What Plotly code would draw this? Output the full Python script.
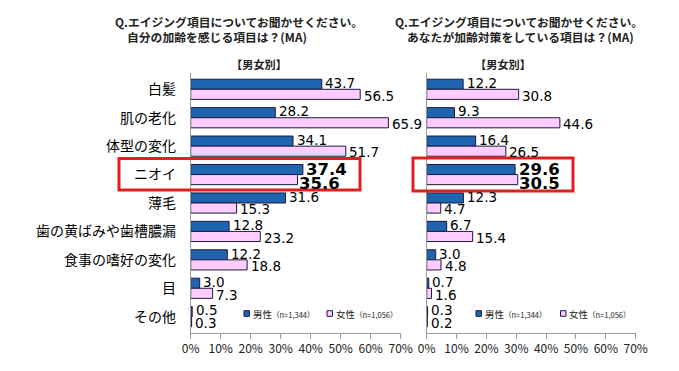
import plotly.graph_objects as go

categories = ["白髪", "肌の老化", "体型の変化", "ニオイ", "薄毛",
              "歯の黄ばみや歯槽膿漏", "食事の嗜好の変化", "目", "その他"]
feel_male = [43.7, 28.2, 34.1, 37.4, 31.6, 12.8, 12.2, 3.0, 0.5]
feel_female = [56.5, 65.9, 51.7, 35.6, 15.3, 23.2, 18.8, 7.3, 0.3]
care_male = [12.2, 9.3, 16.4, 29.6, 12.3, 6.7, 3.0, 0.7, 0.3]
care_female = [30.8, 44.6, 26.5, 30.5, 4.7, 15.4, 4.8, 1.6, 0.2]
x_ticks = [0, 10, 20, 30, 40, 50, 60, 70]
x_tick_labels = ["0%", "10%", "20%", "30%", "40%", "50%", "60%", "70%"]
highlight = "ニオイ"
male_label = "男性"
female_label = "女性"
male_n = "（n=1,344）"
female_n = "（n=1,056）"

MALE = "#1F64AE"
FEMALE = "#FFCCFF"
EDGE = "#1a1a40"
JP = "Noto Sans CJK JP"
NUM = "DejaVu Sans"
W, H = 679, 371

fig = go.Figure()

panels = [
    (feel_male, feel_female, "x", "y"),
    (care_male, care_female, "x2", "y2"),
]
for vals_m, vals_f, xa, ya in panels:
    fig.add_trace(go.Bar(
        y=categories, x=vals_m, orientation="h", name=male_label,
        marker=dict(color=MALE, line=dict(color=EDGE, width=1)),
        xaxis=xa, yaxis=ya, showlegend=False, hoverinfo="x+y"))
    fig.add_trace(go.Bar(
        y=categories, x=vals_f, orientation="h", name=female_label,
        marker=dict(color=FEMALE, line=dict(color=EDGE, width=1)),
        xaxis=xa, yaxis=ya, showlegend=False, hoverinfo="x+y"))
    # value labels, anchored to the data through the axes
    for vals, sign in ((vals_m, 1), (vals_f, -1)):
        for c, v in zip(categories, vals):
            hl = c == highlight
            if hl:
                shift = 5.5 if sign > 0 else -8.5
                xs = 1.5 if sign > 0 else -1.0
                txt = f"<b>{v:.1f}</b>"
                fnt = dict(family=NUM, size=16.5, color="#000")
            else:
                shift = 6.3 if sign > 0 else -6.3
                xs = 1.5
                txt = f"{v:.1f}"
                fnt = dict(family=NUM, size=13.5, color="#000")
            fig.add_annotation(x=v, y=c, xref=xa, yref=ya, text=txt,
                               showarrow=False, xanchor="left", yanchor="middle",
                               xshift=xs, yshift=shift, font=fnt)

xcommon = dict(range=[0, 70], tickvals=x_ticks, ticktext=x_tick_labels,
               showgrid=False, zeroline=False, showline=True, linecolor="#9a9a9a",
               ticks="outside", ticklen=5, tickcolor="#9a9a9a",
               tickfont=dict(family=JP, size=12, color="#222"), fixedrange=True)
ycommon = dict(autorange="reversed", showgrid=False, zeroline=False, showline=True,
               linecolor="#9a9a9a", ticks="", fixedrange=True)

fig.update_layout(
    width=W, height=H, autosize=False,
    margin=dict(l=0, r=0, t=0, b=0, autoexpand=False),
    paper_bgcolor="white", plot_bgcolor="white",
    barmode="group", bargap=0.29, bargroupgap=0,
    font=dict(family=JP, color="#000"),
    showlegend=False,
    xaxis=dict(domain=[190.7 / W, 400.7 / W], anchor="y", **xcommon),
    xaxis2=dict(domain=[426.7 / W, 635.7 / W], anchor="y2", **xcommon),
    yaxis=dict(domain=[1 - 333 / H, 1 - 73 / H], anchor="x", ticklabelstandoff=11,
               tickfont=dict(family=JP, size=14, color="#000"), **ycommon),
    yaxis2=dict(domain=[1 - 333 / H, 1 - 73 / H], anchor="x2", showticklabels=False,
                **ycommon),
)

# titles
title_font = dict(family=JP, size=11.8, color="#222")
anns = [
    (113, 21.5, "<b>Q.エイジング項目についてお聞かせください。</b>"),
    (125, 36.5, "<b>自分の加齢を感じる項目は？(MA)</b>"),
    (393, 21.5, "<b>Q.エイジング項目についてお聞かせください。</b>"),
    (405, 36.5, "<b>あなたが加齢対策をしている項目は？(MA)</b>"),
]
for px, py, t in anns:
    fig.add_annotation(x=px / W, y=1 - py / H, xref="paper", yref="paper",
                       xanchor="left", yanchor="middle", text=t, showarrow=False,
                       font=title_font)
for cx in (259, 503):
    fig.add_annotation(x=cx / W, y=1 - 64.5 / H, xref="paper", yref="paper",
                       xanchor="center", yanchor="middle", text="<b>【男女別】</b>",
                       showarrow=False, font=dict(family=JP, size=11.2, color="#222"))

# legends (icon + text) for each panel
legend_entries = [
    (244, male_label, male_n, MALE),
    (327, female_label, female_n, FEMALE),
    (476, male_label, male_n, MALE),
    (560.5, female_label, female_n, FEMALE),
]
ly = 313.5
for lx, lab, n, col in legend_entries:
    fig.add_shape(type="rect", xref="paper", yref="paper",
                  x0=lx / W, x1=(lx + 5.5) / W, y0=1 - (ly + 2.8) / H, y1=1 - (ly - 2.8) / H,
                  fillcolor=col, line=dict(color=EDGE, width=1))
    fig.add_annotation(x=(lx + 6.5) / W, y=1 - ly / H, xref="paper", yref="paper",
                       xanchor="left", yanchor="middle", showarrow=False,
                       text=f"{lab}<span style='font-size:7.5px'>{n}</span>",
                       font=dict(family=JP, size=9.5, color="#222"))

# highlight boxes
for x0, x1, y0, y1 in [(119, 360, 158.5, 190), (413, 573, 158, 191)]:
    fig.add_shape(type="rect", xref="paper", yref="paper",
                  x0=x0 / W, x1=x1 / W, y0=1 - y1 / H, y1=1 - y0 / H,
                  line=dict(color="#E0201E", width=3), fillcolor="rgba(0,0,0,0)")

fig.write_html(
    "out.html",
    config={"displayModeBar": False, "staticPlot": True},
    post_script="document.body.style.margin='0';document.body.style.overflow='hidden';",
)
